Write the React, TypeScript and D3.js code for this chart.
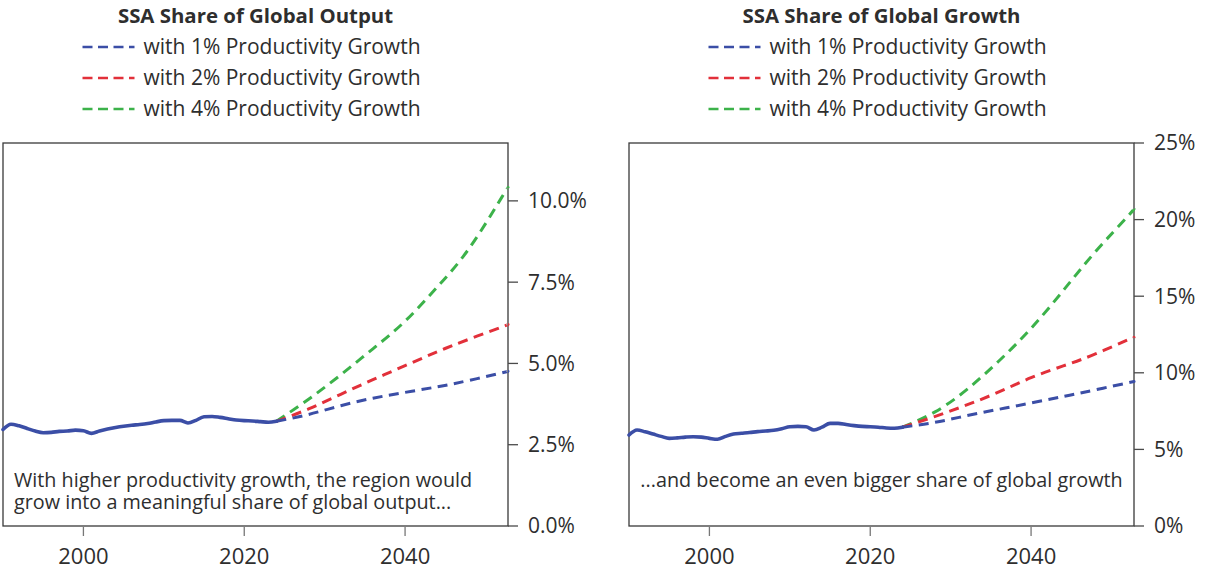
import React from 'react';
import * as d3 from 'd3';

// ---------- data ----------
const histYears = [1990, 1991, 1992, 1993, 1994, 1995, 1996, 1997, 1998, 1999, 2000, 2001, 2002, 2003, 2004, 2005, 2006, 2007, 2008, 2009, 2010, 2011, 2012, 2013, 2014, 2015, 2016, 2017, 2018, 2019, 2020, 2021, 2022, 2023, 2024];
const outputHist = [2.97, 3.13, 3.08, 3.0, 2.92, 2.87, 2.88, 2.91, 2.92, 2.95, 2.93, 2.85, 2.92, 2.98, 3.03, 3.07, 3.1, 3.12, 3.15, 3.2, 3.24, 3.25, 3.25, 3.17, 3.25, 3.36, 3.37, 3.34, 3.3, 3.26, 3.24, 3.23, 3.21, 3.19, 3.22];
const growthHist = [5.94, 6.27, 6.15, 6.0, 5.85, 5.72, 5.75, 5.8, 5.83, 5.8, 5.72, 5.66, 5.85, 6.0, 6.05, 6.1, 6.16, 6.2, 6.25, 6.35, 6.48, 6.5, 6.48, 6.27, 6.45, 6.7, 6.7, 6.62, 6.55, 6.5, 6.48, 6.45, 6.4, 6.38, 6.45];

const projYears = [2024, 2028, 2032, 2036, 2040, 2044, 2048, 2052, 2052.8];
const outputP1 = [3.22, 3.43, 3.7, 3.93, 4.11, 4.28, 4.48, 4.71, 4.76];
const outputP2 = [3.22, 3.6, 4.05, 4.5, 4.93, 5.36, 5.75, 6.12, 6.2];
const outputP4 = [3.22, 3.9, 4.65, 5.45, 6.3, 7.35, 8.55, 10.1, 10.4];
const growthP1 = [6.45, 6.76, 7.2, 7.62, 8.03, 8.45, 8.89, 9.34, 9.43];
const growthP2 = [6.45, 7.14, 7.9, 8.75, 9.68, 10.45, 11.23, 12.15, 12.3];
const growthP4 = [6.45, 7.43, 8.9, 10.77, 12.9, 15.37, 17.9, 20.2, 20.7];

const xTicks = [2000, 2020, 2040];
const outputTicks = [0, 2.5, 5, 7.5, 10];
const growthTicks = [0, 5, 10, 15, 20, 25];

const seriesLabels = ['with 1% Productivity Growth', 'with 2% Productivity Growth', 'with 4% Productivity Growth'];
const titles = ['SSA Share of Global Output', 'SSA Share of Global Growth'];
const notes = [
  ['With higher productivity growth, the region would', 'grow into a meaningful share of global output...'],
  ['...and become an even bigger share of global growth'],
];

// ---------- style ----------
const COLORS = ['#3b4ea6', '#e2303a', '#3cb24a'];
const TEXT = '#2e2e2e';
const FONT = "'Open Sans', 'Noto Sans', sans-serif";

const TOP = 143;
const BOTTOM = 526;

interface PanelProps {
  x0: number;
  x1: number;
  yMax: number;
  ticks: number[];
  fmt: (v: number) => string;
  hist: number[];
  proj: number[][];
  title: string;
  note: string[];
  noteAlign: 'start' | 'middle';
}

function Panel(p: PanelProps) {
  const x = d3.scaleLinear().domain([1990, 2052.8]).range([p.x0, p.x1]);
  const y = d3.scaleLinear().domain([0, p.yMax]).range([BOTTOM, TOP]);
  const histLine = d3
    .line<[number, number]>()
    .x((d) => x(d[0]))
    .y((d) => y(d[1]))
    .curve(d3.curveMonotoneX);
  const projLine = d3
    .line<[number, number]>()
    .x((d) => x(d[0]))
    .y((d) => y(d[1]))
    .curve(d3.curveNatural);
  const histPath = histLine(histYears.map((yr, i) => [yr, p.hist[i]] as [number, number])) || '';
  const projPaths = p.proj.map((vals) => projLine(projYears.map((yr, i) => [yr, vals[i]] as [number, number])) || '');
  const cx = (p.x0 + p.x1) / 2;
  const legendX = cx - 173;

  return (
    <g>
      {/* title & legend */}
      <text x={cx} y={23} textAnchor="middle" fontFamily={FONT} fontWeight="bold" fontSize={20.4} fill={TEXT}>
        {p.title}
      </text>
      {seriesLabels.map((lab, i) => (
        <g key={lab} transform={`translate(${legendX},${47 + i * 31})`}>
          <line x1={0} x2={52} y1={0} y2={0} stroke={COLORS[i]} strokeWidth={2.6} strokeDasharray="10,5.5" />
          <text x={61} y={7} fontFamily={FONT} fontSize={21} fill={TEXT}>
            {lab}
          </text>
        </g>
      ))}

      {/* frame */}
      <rect x={p.x0} y={TOP} width={p.x1 - p.x0} height={BOTTOM - TOP} fill="none" stroke="#3a3a3a" strokeWidth={1.3} />

      {/* y axis (right) */}
      {p.ticks.map((t) => (
        <g key={t}>
          <line x1={p.x1} x2={p.x1 + 10} y1={y(t)} y2={y(t)} stroke="#4a4a4a" strokeWidth={1.3} />
          <text x={p.x1 + 20} y={y(t)} dy="0.35em" fontFamily={FONT} fontSize={21} fill={TEXT}>
            {p.fmt(t)}
          </text>
        </g>
      ))}

      {/* x axis */}
      {xTicks.map((t) => (
        <g key={t}>
          <line x1={x(t)} x2={x(t)} y1={BOTTOM + 1} y2={BOTTOM + 10} stroke="#777" strokeWidth={1.3} />
          <text x={x(t)} y={563.5} textAnchor="middle" fontFamily={FONT} fontSize={22} fill={TEXT}>
            {t}
          </text>
        </g>
      ))}

      {/* lines */}
      {[2, 1, 0].map((i) => (
        <path key={i} d={projPaths[i]} fill="none" stroke={COLORS[i]} strokeWidth={3} strokeDasharray="10,6.5" />
      ))}
      <path d={histPath} fill="none" stroke={COLORS[0]} strokeWidth={3.6} strokeLinejoin="round" strokeLinecap="round" />

      {/* note */}
      {p.note.map((ln, i) => (
        <text
          key={i}
          x={p.noteAlign === 'start' ? p.x0 + 11 : cx}
          y={487 + i * 22}
          textAnchor={p.noteAlign}
          fontFamily={FONT}
          fontSize={19.8}
          fill={TEXT}
        >
          {ln}
        </text>
      ))}
    </g>
  );
}

export default function App() {
  const fmt1 = (v: number) => d3.format('.1f')(v) + '%';
  const fmt0 = (v: number) => d3.format('d')(v) + '%';
  return (
    <svg width={1224} height={569} style={{ position: 'absolute', left: 0, top: 0, background: '#fff' }}>
      <rect x={0} y={0} width={1224} height={569} fill="#fff" />
      <Panel
        x0={3}
        x1={508}
        yMax={11.78}
        ticks={outputTicks}
        fmt={fmt1}
        hist={outputHist}
        proj={[outputP1, outputP2, outputP4]}
        title={titles[0]}
        note={notes[0]}
        noteAlign="start"
      />
      <Panel
        x0={629}
        x1={1134}
        yMax={25}
        ticks={growthTicks}
        fmt={fmt0}
        hist={growthHist}
        proj={[growthP1, growthP2, growthP4]}
        title={titles[1]}
        note={notes[1]}
        noteAlign="middle"
      />
    </svg>
  );
}
